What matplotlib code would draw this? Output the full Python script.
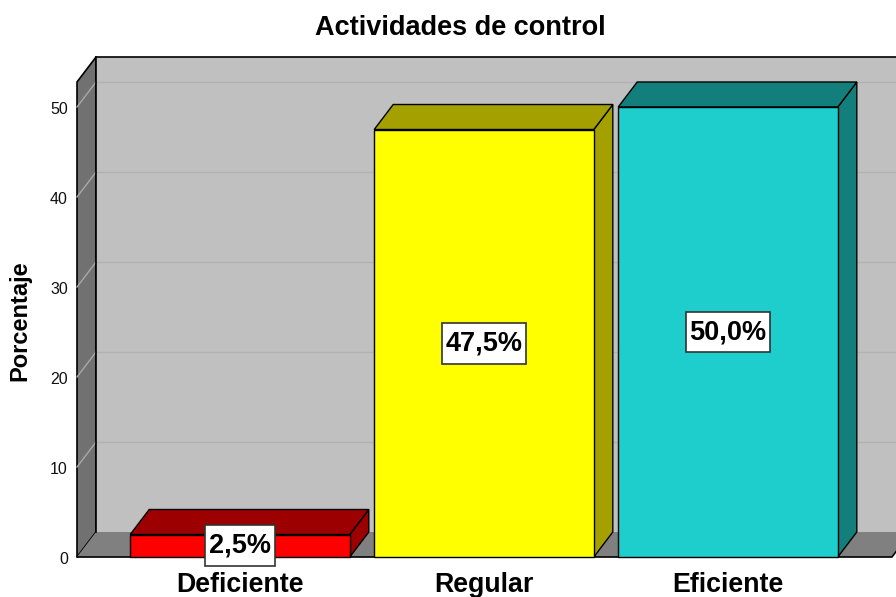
import matplotlib
matplotlib.use("Agg")
import matplotlib.pyplot as plt
from matplotlib.patches import Polygon, Rectangle
from matplotlib.path import Path

# ---- data ----
categories = ["Deficiente", "Regular", "Eficiente"]
values = [2.5, 47.5, 50.0]
value_labels = ["2,5%", "47,5%", "50,0%"]
yticks = [0, 10, 20, 30, 40, 50]
title = "Actividades de control"
ylabel = "Porcentaje"

front_colors = ["#ff0000", "#ffff00", "#1dcecd"]
dark_colors = ["#9c0000", "#a3a000", "#137f7d"]

plt.rcParams["font.family"] = ["Liberation Sans", "DejaVu Sans"]


def label_box(x0, y0, width, height, mutation_size):
    px = 0.14 * mutation_size
    py = 0.27 * mutation_size
    x0, y0 = x0 - px, y0 - py
    x1, y1 = x0 + width + 2 * px, y0 + height + 2 * py
    return Path([(x0, y0), (x1, y0), (x1, y1), (x0, y1), (x0, y0)],
                [Path.MOVETO, Path.LINETO, Path.LINETO, Path.LINETO, Path.CLOSEPOLY])


fig = plt.figure(figsize=(8.96, 5.97), dpi=100)
ax = fig.add_axes([0, 0, 1, 1])
ax.set_xlim(-0.9836, 2.6885)
ax.set_ylim(-4.444, 61.889)
ax.axis("off")

DX = 19 / 244.0
DY = 25 / 9.0
wall_x0 = -0.668
wall_x1 = wall_x0 + DX
wall_top = 52.78
right_x = 2.672
bw = 0.9

# left wall
ax.add_patch(Polygon([(wall_x0, 0), (wall_x1, DY), (wall_x1, wall_top + DY), (wall_x0, wall_top)],
                     closed=True, facecolor="#717171", edgecolor="black", lw=1.2, zorder=1))
# back wall
ax.add_patch(Polygon([(wall_x1, DY), (right_x + DX, DY), (right_x + DX, wall_top + DY), (wall_x1, wall_top + DY)],
                     closed=True, facecolor="#c0c0c0", edgecolor="none", zorder=1))
# floor
ax.add_patch(Polygon([(wall_x0, 0), (right_x, 0), (right_x + DX, DY), (wall_x1, DY)],
                     closed=True, facecolor="#808080", edgecolor="none", zorder=1))
ax.plot([wall_x0, right_x, right_x + DX], [0, 0, DY], color="black", lw=1.2, zorder=2)
ax.plot([wall_x1, right_x + DX], [wall_top + DY, wall_top + DY], color="black", lw=1.2, zorder=2)
ax.plot([wall_x1, wall_x1], [DY, wall_top + DY], color="black", lw=1.2, zorder=2)

# grid lines
for v in yticks[1:]:
    ax.plot([wall_x1, right_x + DX], [v + DY, v + DY], color="#b2b2b2", lw=1.0, zorder=1.5)
    ax.plot([wall_x0, wall_x1], [v, v + DY], color="#a8a8a8", lw=1.0, zorder=1.5)

# tick labels
for v in yticks:
    ax.text(-0.705, v - 0.3, str(v), ha="right", va="center", fontsize=11.5, color="#111111")

# bars
for i, (v, fc, dc) in enumerate(zip(values, front_colors, dark_colors)):
    x0, x1 = i - bw / 2, i + bw / 2
    ax.add_patch(Polygon([(x1, 0), (x1 + DX, DY), (x1 + DX, v + DY), (x1, v)],
                         closed=True, facecolor=dc, edgecolor="black", lw=1.0, zorder=3))
    ax.add_patch(Polygon([(x0, v), (x1, v), (x1 + DX, v + DY), (x0 + DX, v + DY)],
                         closed=True, facecolor=dc, edgecolor="black", lw=1.0, zorder=3))
    ax.add_patch(Rectangle((x0, 0), bw, v, facecolor=fc, edgecolor="black", lw=1.0, zorder=4))
    ax.text(i, v / 2, value_labels[i], ha="center", va="center", fontsize=19.5, fontweight="bold",
            zorder=6, bbox=dict(boxstyle=label_box, facecolor="white", edgecolor="#333333", lw=1.2))
    ax.text(i, -3.89, categories[i], ha="center", va="baseline", fontsize=19.3, fontweight="bold", zorder=6)

ax.text(0.904, 58.0, title, ha="center", va="baseline", fontsize=19.5, fontweight="bold")
ax.text(-0.902, 26.3, ylabel, ha="center", va="center", rotation=90, fontsize=17, fontweight="bold")

fig.savefig("out.png", dpi=100)
